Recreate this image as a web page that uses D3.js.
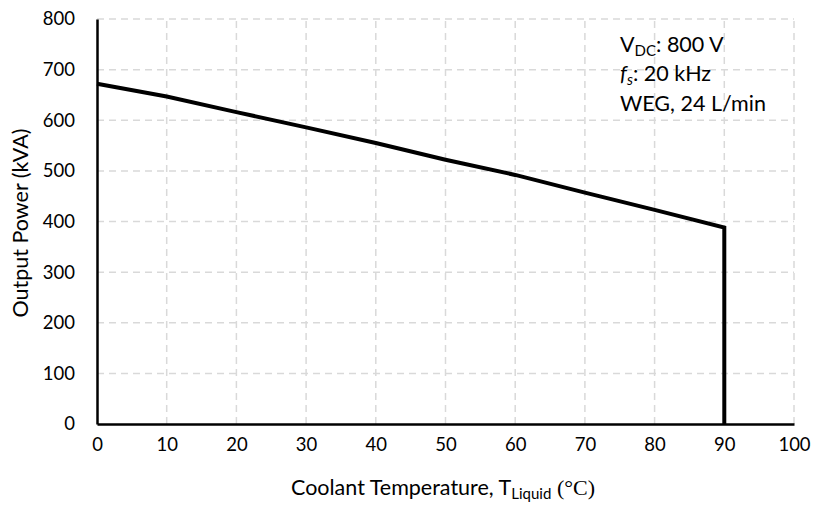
<!DOCTYPE html>
<html><head><meta charset="utf-8">
<script src="https://cdn.jsdelivr.net/npm/d3@7"></script>
<style>body{margin:0;background:#fff}svg{display:block}text{font-family:Lato,"Open Sans",sans-serif;fill:#000}</style>
</head><body>
<svg id="c" width="814" height="506"></svg>
<script>
const temps = [0,10,20,30,40,50,60,70,80,90,90];
const power = [672,647,616,586,555,522,492,457,423,388,0];
const xTicks = [0,10,20,30,40,50,60,70,80,90,100];
const yTicks = [0,100,200,300,400,500,600,700,800];

const svg = d3.select("#c");
const x = d3.scaleLinear().domain([0,100]).range([97,794]);
const y = d3.scaleLinear().domain([0,800]).range([424,19]);

// grid
svg.append("g").selectAll("line").data(yTicks.filter(d=>d>0)).join("line")
  .attr("x1",x(0)).attr("x2",x(100)).attr("y1",d=>y(d)).attr("y2",d=>y(d))
  .attr("stroke","#d9d9d9").attr("stroke-width",1.5).attr("stroke-dasharray","7,5");
svg.append("g").selectAll("line").data(xTicks.filter(d=>d>0)).join("line")
  .attr("x1",d=>x(d)).attr("x2",d=>x(d)).attr("y1",y(0)).attr("y2",y(800))
  .attr("stroke","#d9d9d9").attr("stroke-width",1.5).attr("stroke-dasharray","7,5");

// axes
const xa = svg.append("g").attr("transform",`translate(0,${y(0)})`)
  .call(d3.axisBottom(x).tickValues(xTicks).tickSize(0).tickPadding(14).tickFormat(d3.format("d")));
const ya = svg.append("g").attr("transform",`translate(${x(0)},0)`)
  .call(d3.axisLeft(y).tickValues(yTicks).tickSize(0).tickPadding(22).tickFormat(d3.format("d")));
[xa,ya].forEach(a=>{a.select(".domain").attr("stroke","#000").attr("stroke-width",2.5);
  a.selectAll("text").attr("font-size",18.5).attr("font-family","Lato,sans-serif");});

// line
svg.append("path").datum(temps.map((t,i)=>[t,power[i]]))
  .attr("d",d3.line().x(d=>x(d[0])).y(d=>y(d[1])))
  .attr("fill","none").attr("stroke","#000").attr("stroke-width",4).attr("stroke-linejoin","miter");

// axis titles
const xt = svg.append("text").attr("x",443).attr("y",495).attr("text-anchor","middle").attr("font-size",21.5);
xt.append("tspan").text("Coolant Temperature, T");
xt.append("tspan").attr("font-size",15).attr("dy",4).text("Liquid");
xt.append("tspan").attr("dy",-4).text(" ");
xt.append("tspan").attr("font-family","'Liberation Serif',serif").attr("font-size",22).text("(°C)");

svg.append("text").attr("transform","translate(28,223) rotate(-90)").attr("text-anchor","middle")
  .attr("font-size",21.5).text("Output Power (kVA)");

// annotation
const ann = svg.append("g").attr("font-size",21.5);
const t1 = ann.append("text").attr("x",620).attr("y",52);
t1.append("tspan").text("V");
t1.append("tspan").attr("font-size",15).attr("dy",4).text("DC");
t1.append("tspan").attr("dy",-4).text(": 800 V");
const t2 = ann.append("text").attr("x",620).attr("y",81);
t2.append("tspan").attr("font-style","italic").text("f");
t2.append("tspan").attr("font-style","italic").attr("font-size",15).attr("dy",4).text("s");
t2.append("tspan").attr("dy",-4).text(": 20 kHz");
ann.append("text").attr("x",620).attr("y",110.5).text("WEG, 24 L/min");
</script>
</body></html>
